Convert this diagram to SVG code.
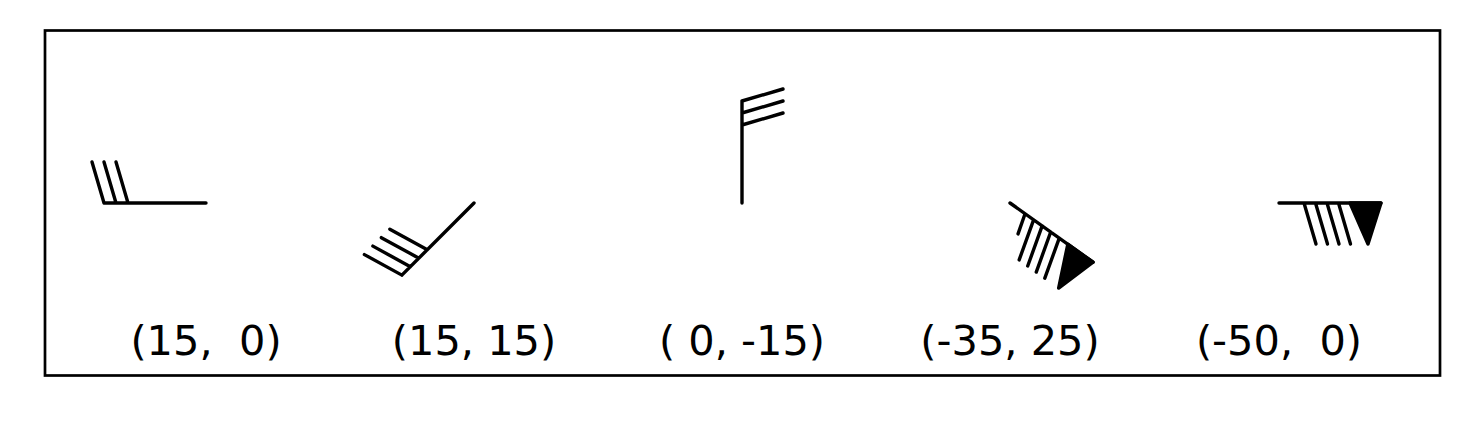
<svg xmlns="http://www.w3.org/2000/svg" width="1469" height="421" viewBox="0 0 1469 421">
<style>
.b{fill:none;stroke:#000;stroke-width:3.4;stroke-linecap:round;stroke-linejoin:round}
.f{fill:#000;stroke:#000;stroke-width:3.4;stroke-linejoin:round}
.t{font-family:"DejaVu Sans",sans-serif;font-size:41.5px;fill:#000;text-anchor:middle;white-space:pre}
</style>
<rect x="0" y="0" width="1469" height="421" fill="#fff"/>
<rect x="45" y="30.5" width="1395" height="345" fill="none" stroke="#000" stroke-width="2.7"/>
<g id="barbs">
<g id="barb1" transform="translate(206,203) rotate(180)">
<path class="b" d="M0,0H102M102,0L114,41M90,0L102,41M78,0L90,41"/>
</g>
<g id="barb2" transform="translate(474,203) rotate(135)">
<path class="b" d="M0,0H102M102,0L114,41M90,0L102,41M78,0L90,41M66,0L78,41"/>
</g>
<g id="barb3" transform="translate(742,203) rotate(-90)">
<path class="b" d="M0,0H102M102,0L114,41M90,0L102,41M78,0L90,41"/>
</g>
<g id="barb4" transform="translate(1010,203) rotate(35.5)">
<path class="b" d="M0,0H102M60.5,0L72,41M50,0L61.5,41M39.5,0L51,41M29,0L40.5,41M18.5,0L24.5,20.5"/>
<polygon class="f" points="102,0 71,0 89,41"/>
</g>
<g id="barb5" transform="translate(1279,203)">
<path class="b" d="M0,0H102M59.5,0L71.5,41M48,0L60,41M36.5,0L48.5,41M25,0L37,41"/>
<polygon class="f" points="102,0 71,0 89,41"/>
</g>
</g>
<g id="labels">
<text class="t" x="206" y="354.5">(15,  0)</text>
<text class="t" x="474" y="354.5">(15, 15)</text>
<text class="t" x="742" y="354.5">( 0, -15)</text>
<text class="t" x="1010" y="354.5">(-35, 25)</text>
<text class="t" x="1279" y="354.5">(-50,  0)</text>
</g>
</svg>
